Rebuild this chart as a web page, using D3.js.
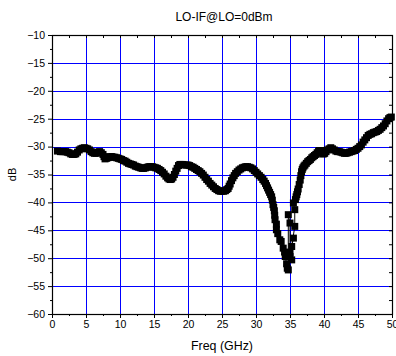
<!DOCTYPE html>
<html>
<head>
<meta charset="utf-8">
<script src="https://cdn.jsdelivr.net/npm/d3@7"></script>
<style>
  body { margin: 0; background: #fff; }
  svg { display: block; font-family: "Liberation Sans", Arial, sans-serif; }
</style>
</head>
<body>
<div id="chart"></div>
<script>
// LO-IF isolation (GHz, dB)
var freq = [0.8, 1.25, 1.5, 1.75, 2.0, 2.25, 2.5, 2.75, 3.0, 3.25, 3.5, 3.75, 4.0, 4.25, 4.5, 4.75, 5.0, 5.25, 5.5, 5.75,
  6.0, 6.25, 6.5, 6.75, 7.0, 7.25, 7.5, 7.65, 7.8, 8.0, 8.2, 8.4, 8.6, 8.8, 9.0, 9.25, 9.5, 9.75, 10.0, 10.25,
  10.5, 10.75, 11.0, 11.25, 11.5, 11.75, 12.0, 12.25, 12.5, 12.75, 13.0, 13.25, 13.5, 13.75, 14.0, 14.25, 14.5, 14.75, 15.0, 15.25,
  15.5, 15.75, 16.0, 16.25, 16.5, 16.75, 17.0, 17.2, 17.4, 17.6, 17.8, 18.0, 18.2, 18.4, 18.6, 18.8, 19.0, 19.25, 19.5, 19.75,
  20.0, 20.25, 20.5, 20.75, 21.0, 21.25, 21.5, 21.75, 22.0, 22.25, 22.5, 22.75, 23.0, 23.25, 23.5, 23.75, 24.0, 24.25, 24.5, 24.75,
  25.0, 25.25, 25.5, 25.7, 25.9, 26.05, 26.2, 26.4, 26.6, 26.8, 27.0, 27.25, 27.5, 27.75, 28.0, 28.25, 28.5, 28.75, 29.0, 29.25,
  29.5, 29.75, 30.0, 30.25, 30.5, 30.75, 31.0, 31.2, 31.4, 31.55, 31.7, 31.85, 32.0, 32.15, 32.3, 32.4, 32.5, 32.6, 32.7, 32.75,
  32.8, 33.0, 33.0, 33.2, 33.5, 33.7, 34.0, 34.2, 34.3, 34.5, 34.6, 34.75, 34.75, 35.0, 35.0, 35.25, 35.0, 35.5, 35.25, 35.7,
  35.7, 35.5, 35.8, 35.9, 36.0, 36.1, 36.2, 36.35, 36.5, 36.6, 36.7, 36.8, 36.9, 37.05, 37.2, 37.4, 37.6, 37.8, 38.0, 38.2,
  38.4, 38.6, 38.8, 39.0, 39.2, 39.35, 39.5, 39.65, 39.8, 39.95, 40.1, 40.3, 40.5, 40.75, 41.0, 41.25, 41.5, 41.75, 42.0, 42.25,
  42.5, 42.75, 43.0, 43.25, 43.5, 43.75, 44.0, 44.25, 44.5, 44.75, 45.0, 45.25, 45.5, 45.75, 46.0, 46.25, 46.5, 46.75, 47.0, 47.25,
  47.5, 47.75, 48.0, 48.25, 48.5, 48.75, 49.0, 49.25, 49.5, 49.7, 49.9];
var loIf = [-30.8, -30.9, -30.9, -30.9, -30.9, -31.0, -31.1, -31.3, -31.4, -31.4, -31.3, -31.0, -30.6, -30.4, -30.3, -30.2, -30.3, -30.4, -30.6, -30.9,
  -31.1, -31.2, -31.2, -31.0, -30.9, -31.1, -31.4, -31.8, -32.2, -32.1, -32.0, -31.9, -31.8, -31.8, -31.9, -31.9, -32.0, -32.1, -32.2, -32.3,
  -32.5, -32.6, -32.8, -33.0, -33.1, -33.2, -33.3, -33.5, -33.6, -33.7, -33.8, -33.9, -33.9, -33.8, -33.7, -33.6, -33.6, -33.6, -33.7, -33.8,
  -33.9, -34.1, -34.3, -34.6, -34.9, -35.3, -35.6, -35.8, -35.9, -35.8, -35.5, -35.0, -34.4, -33.9, -33.4, -33.2, -33.2, -33.2, -33.3, -33.3,
  -33.3, -33.4, -33.6, -33.7, -33.9, -34.1, -34.3, -34.5, -34.8, -35.1, -35.5, -35.9, -36.2, -36.6, -36.9, -37.2, -37.5, -37.7, -37.9, -38.0,
  -38.0, -38.0, -37.9, -37.7, -37.5, -37.1, -36.7, -36.1, -35.6, -35.2, -34.8, -34.5, -34.2, -34.0, -33.8, -33.7, -33.6, -33.6, -33.7, -33.8,
  -34.0, -34.3, -34.6, -34.9, -35.2, -35.5, -35.9, -36.2, -36.6, -37.0, -37.4, -37.8, -38.2, -38.6, -39.0, -39.6, -40.4, -40.9, -41.5, -42.3,
  -43.1, -43.9, -44.9, -45.6, -46.7, -47.0, -48.2, -48.9, -49.7, -51.0, -51.8, -52.1, -42.2, -43.7, -49.7, -50.3, -49.0, -46.4, -47.9, -44.3,
  -41.3, -40.1, -39.5, -39.0, -38.6, -38.1, -37.6, -36.8, -36.0, -35.2, -34.5, -34.1, -33.8, -33.5, -33.3, -33.0, -32.7, -32.5, -32.3, -32.0,
  -31.8, -31.6, -31.4, -31.1, -30.8, -30.7, -30.7, -31.0, -31.3, -31.3, -31.2, -30.9, -30.6, -30.4, -30.2, -30.4, -30.6, -30.8, -30.9, -30.9,
  -31.0, -31.1, -31.2, -31.2, -31.1, -31.0, -30.9, -30.8, -30.7, -30.5, -30.3, -30.0, -29.7, -29.2, -28.8, -28.4, -28.0, -27.8, -27.7, -27.5,
  -27.4, -27.3, -27.1, -26.9, -26.6, -26.3, -25.9, -25.4, -25.0, -24.8, -24.7];

var xTicks = [0, 5, 10, 15, 20, 25, 30, 35, 40, 45, 50];
var yTicks = [-10, -15, -20, -25, -30, -35, -40, -45, -50, -55, -60];
var xMinor = [2.5, 7.5, 12.5, 17.5, 22.5, 27.5, 32.5, 37.5, 42.5, 47.5];
var yMinor = [-12.5, -17.5, -22.5, -27.5, -32.5, -37.5, -42.5, -47.5, -52.5, -57.5];

var W = 396, H = 356;
var margin = { top: 35, right: 4, bottom: 42, left: 52 };
var width = W - margin.left - margin.right;
var height = H - margin.top - margin.bottom;

var svg = d3.select('#chart').append('svg')
  .attr('width', W)
  .attr('height', H);

var g = svg.append('g').attr('transform', 'translate(' + margin.left + ',' + margin.top + ')');

var x = d3.scaleLinear().domain([0, 50]).range([0, width]);
var y = d3.scaleLinear().domain([-60, -10]).range([height, 0]);

// grid
g.append('g').selectAll('line.vg').data(xTicks.slice(1, -1)).enter().append('line')
  .attr('x1', function (d) { return Math.round(x(d)) + 0.5; })
  .attr('x2', function (d) { return Math.round(x(d)) + 0.5; })
  .attr('y1', 0).attr('y2', height)
  .attr('stroke', '#0000ff').attr('stroke-width', 1);
g.append('g').selectAll('line.hg').data(yTicks.slice(1, -1)).enter().append('line')
  .attr('y1', function (d) { return Math.round(y(d)) + 0.5; })
  .attr('y2', function (d) { return Math.round(y(d)) + 0.5; })
  .attr('x1', 0).attr('x2', width)
  .attr('stroke', '#0000ff').attr('stroke-width', 1);

// axes
function styleAxis(sel) {
  sel.select('.domain').remove();
  sel.selectAll('line').attr('stroke', '#000');
  sel.selectAll('text').attr('font-size', '10.5px').attr('fill', '#000').style('font-family', '"Liberation Sans", Arial, sans-serif');
}

var xAxis = g.append('g').attr('transform', 'translate(0,' + height + ')')
  .call(d3.axisBottom(x).tickValues(xTicks).tickSize(4).tickPadding(3).tickFormat(d3.format('d')));
styleAxis(xAxis);
g.append('g').attr('transform', 'translate(0,' + height + ')')
  .call(d3.axisBottom(x).tickValues(xMinor).tickSize(2).tickFormat(''))
  .call(styleAxis);

var yAxis = g.append('g')
  .call(d3.axisLeft(y).tickValues(yTicks).tickSize(4).tickPadding(3).tickFormat(d3.format('d')));
styleAxis(yAxis);
g.append('g')
  .call(d3.axisLeft(y).tickValues(yMinor).tickSize(2).tickFormat(''))
  .call(styleAxis);

// top and right: inward ticks, no labels
g.append('g').call(d3.axisBottom(x).tickValues(xTicks.concat(xMinor)).tickSize(3).tickFormat('')).call(styleAxis);
g.append('g').attr('transform', 'translate(' + width + ',0)')
  .call(d3.axisLeft(y).tickValues(yTicks.concat(yMinor)).tickSize(3).tickFormat('')).call(styleAxis);

// frame
g.append('rect').attr('x', 0.5).attr('y', 0.5).attr('width', width).attr('height', height)
  .attr('fill', 'none').attr('stroke', '#000').attr('stroke-width', 1.2);

// series
var pts = freq.map(function (f, i) { return [f, loIf[i]]; });

g.append('path').datum(pts)
  .attr('fill', 'none').attr('stroke', '#000').attr('stroke-width', 1)
  .attr('d', d3.line().x(function (d) { return x(d[0]); }).y(function (d) { return y(d[1]); }));

var ms = 7;
g.append('g').selectAll('rect').data(pts).enter().append('rect')
  .attr('x', function (d) { return x(d[0]) - ms / 2; })
  .attr('y', function (d) { return y(d[1]) - ms / 2; })
  .attr('width', ms).attr('height', ms)
  .attr('fill', '#000');

// labels
svg.append('text').attr('x', 224).attr('y', 21).attr('text-anchor', 'middle')
  .attr('font-size', '12px').text('LO-IF@LO=0dBm');
svg.append('text').attr('x', margin.left + width / 2).attr('y', 350).attr('text-anchor', 'middle')
  .attr('font-size', '12.4px').text('Freq (GHz)');
svg.append('text').attr('transform', 'translate(16,' + (margin.top + height / 2) + ') rotate(-90)')
  .attr('text-anchor', 'middle').attr('font-size', '11px').text('dB');
</script>
</body>
</html>
